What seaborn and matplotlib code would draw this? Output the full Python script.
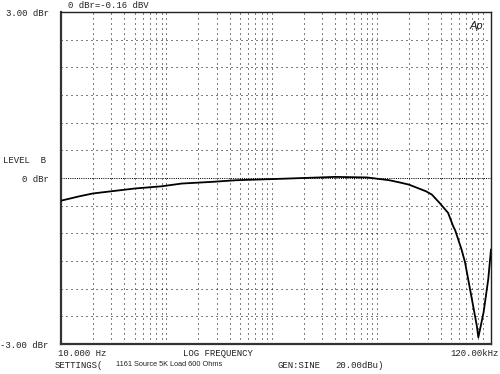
"""
Audio Precision style frequency response sweep (LEVEL B vs log frequency).
"""
import numpy as np
import matplotlib
matplotlib.use("Agg")
import matplotlib.pyplot as plt
import seaborn as sns

freq_hz = [10, 15, 20, 30, 50, 90, 140, 270, 460, 1000, 2000, 4000, 8000,
           13000, 16300, 20000, 29000, 33000, 39000, 47000, 52500, 55000,
           63000, 68000, 78000, 88000, 91000, 102000, 113000, 120000]
level_dbr = [-0.41, -0.33, -0.28, -0.24, -0.19, -0.15, -0.10, -0.07, -0.04,
             -0.02, 0.00, 0.02, 0.01, -0.04, -0.08, -0.12, -0.24, -0.30,
             -0.45, -0.63, -0.87, -0.95, -1.29, -1.52, -2.13, -2.67, -2.88,
             -2.43, -1.83, -1.29]

y_ticks = [-3, 0, 3]
y_tick_labels = ["-3.00 dBr", "0 dBr", "3.00 dBr"]

sns.set_style("white")
plt.rcParams['font.family'] = ['Liberation Mono', 'DejaVu Sans Mono']

fig = plt.figure(figsize=(5, 3.74), dpi=100)
ax = fig.add_axes([61 / 500, 1 - 344 / 374, 430 / 500, 332 / 374])

ax.set_xscale("log")
ax.set_xlim(10, 120000)
ax.set_ylim(-3, 3)

# dotted grid: every 1-2-3..9 per decade, every 0.5 dB
grid_kw = dict(color="black", lw=0.72, linestyle=(0, (1, 4)), zorder=1)
for dec in [10, 100, 1000, 10000, 100000]:
    for m in range(1, 10):
        f = dec * m
        if 10 < f < 120000:
            ax.axvline(f, **grid_kw)
for lv in np.arange(-2.5, 3.0, 0.5):
    if abs(lv) < 1e-9:
        ax.axhline(0, color="black", lw=0.72, linestyle=(0, (1, 1.2)), zorder=1)
    else:
        ax.axhline(lv, **grid_kw)

sns.lineplot(x=freq_hz, y=level_dbr, ax=ax, color="black", lw=1.3,
             sort=False, zorder=3)

ax.set_yticks(y_ticks)
ax.set_yticklabels(y_tick_labels, fontsize=6.5, color="#222")
ax.tick_params(axis="y", length=0, pad=9)
ax.set_xticks([])
ax.minorticks_off()
ax.set_xticks([], minor=True)
ax.set_xlabel("")
ax.set_ylabel("")

for s in ["top", "right"]:
    ax.spines[s].set_color("#222")
    ax.spines[s].set_linewidth(1.0)
for s in ["left", "bottom"]:
    ax.spines[s].set_color("#333")
    ax.spines[s].set_linewidth(1.6)

txt = dict(fontsize=6.5, color="#222")
fig.text(68 / 500, 1 - 5 / 374, "0 dBr=-0.16 dBV", va="center", ha="left", **txt)
fig.text(3 / 500, 1 - 161 / 374, "LEVEL  B", va="center", ha="left", **txt)
fig.text(58 / 500, 1 - 354 / 374, "10.000 Hz", va="center", ha="left", **txt)
fig.text(183 / 500, 1 - 354 / 374, "LOG FREQUENCY", va="center", ha="left", **txt)
fig.text(499 / 500, 1 - 354 / 374, "120.00kHz", va="center", ha="right", **txt)
fig.text(55 / 500, 1 - 365 / 374, "SETTINGS(", va="center", ha="left", **txt)
fig.text(116 / 500, 1 - 365 / 374, "1161 Source 5K Load 600 Ohms", va="center",
         ha="left", fontsize=5.3, color="#222", family="Liberation Sans")
fig.text(277 / 500, 1 - 365 / 374, "GEN:SINE", va="center", ha="left", **txt)
fig.text(335 / 500, 1 - 365 / 374, "20.00dBu)", va="center", ha="left", **txt)
fig.text(470 / 500, 1 - 26 / 374, "Ap", va="center", ha="left", fontsize=8,
         style="italic", color="#222", family="Liberation Sans")

fig.savefig("out.png", dpi=100)
